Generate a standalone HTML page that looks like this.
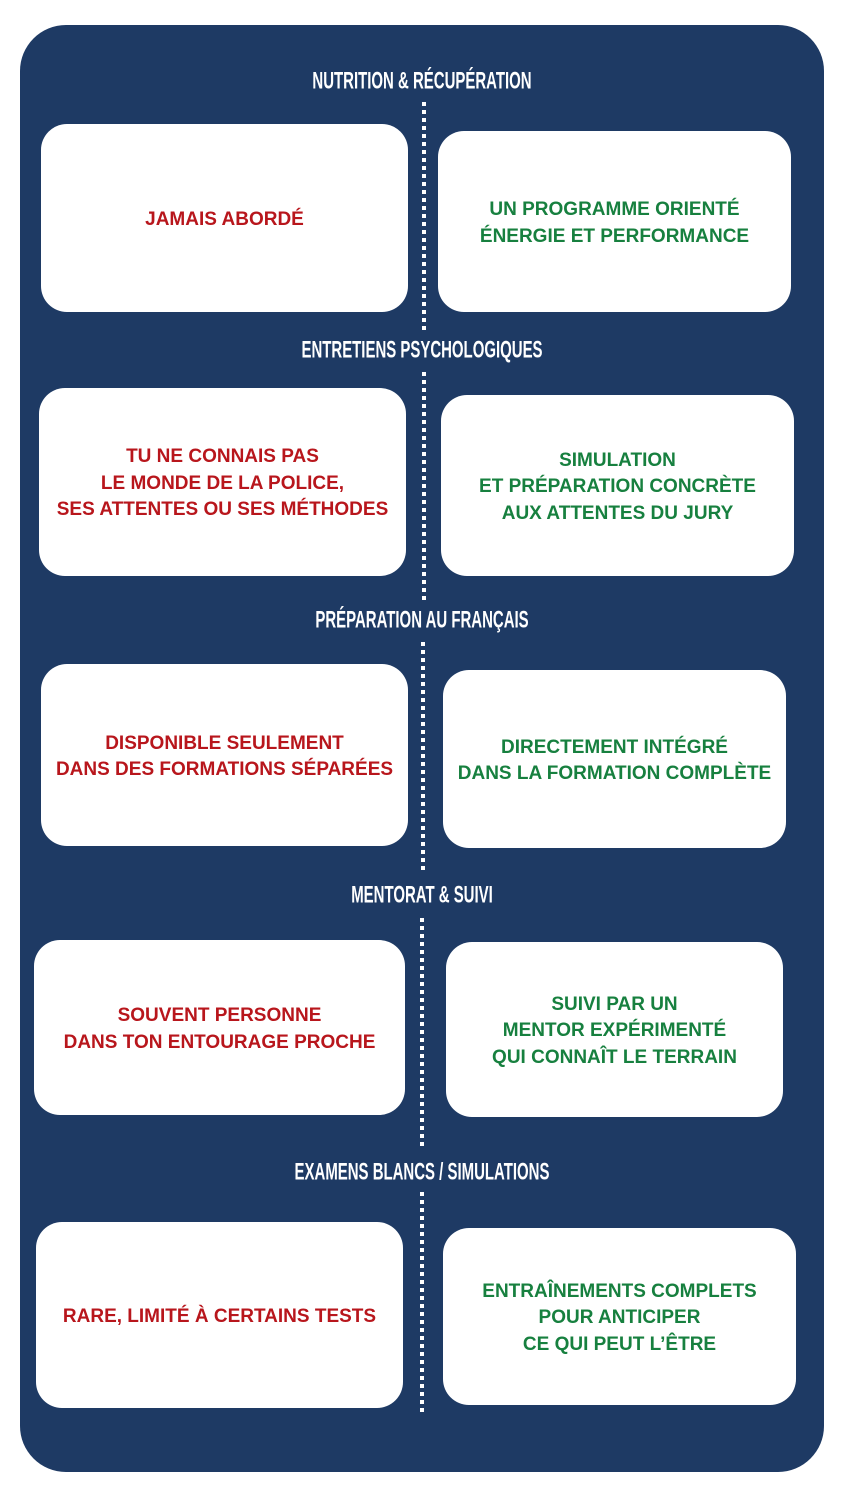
<!DOCTYPE html>
<html><head><meta charset="utf-8"><style>
*{margin:0;padding:0;box-sizing:border-box}
body{width:844px;height:1500px;background:#fff;position:relative;overflow:hidden;font-family:"Liberation Sans",sans-serif}
.bg{position:absolute;left:20px;top:25px;width:804px;height:1447px;background:#1e3a64;border-radius:46px}
.h{position:absolute;left:0;width:844px;text-align:center;color:#fff;font-family:"Liberation Sans Narrow","Liberation Sans",sans-serif;font-weight:bold;font-size:22px;transform:scale(0.68,1.08);line-height:24px}
.d{position:absolute;width:4px;background:repeating-linear-gradient(to bottom,#fff 0 4px,transparent 4px 8px)}
.b{position:absolute;background:#fff;border-radius:26px;display:flex;align-items:center;justify-content:center;text-align:center;font-weight:bold;font-size:19px;line-height:26.5px;padding-top:4px}
.r{color:#b8161c}.g{color:#17803f}
</style></head><body>
<div class="bg"></div>
<div class="h" style="top:69px">NUTRITION &amp; RÉCUPÉRATION</div>
<div class="h" style="top:338px">ENTRETIENS PSYCHOLOGIQUES</div>
<div class="h" style="top:608px">PRÉPARATION AU FRANÇAIS</div>
<div class="h" style="top:883px">MENTORAT &amp; SUIVI</div>
<div class="h" style="top:1160px">EXAMENS BLANCS / SIMULATIONS</div>
<div class="d" style="left:422px;top:102px;height:228px"></div>
<div class="d" style="left:422px;top:372px;height:228px"></div>
<div class="d" style="left:421px;top:642px;height:232px"></div>
<div class="d" style="left:420px;top:918px;height:232px"></div>
<div class="d" style="left:420px;top:1192px;height:224px"></div>
<div class="b r" style="left:41px;top:124px;width:367px;height:188px">JAMAIS ABORDÉ</div>
<div class="b g" style="left:438px;top:131px;width:353px;height:181px">UN PROGRAMME ORIENTÉ<br>ÉNERGIE ET PERFORMANCE</div>
<div class="b r" style="left:39px;top:388px;width:367px;height:188px">TU NE CONNAIS PAS<br>LE MONDE DE LA POLICE,<br>SES ATTENTES OU SES MÉTHODES</div>
<div class="b g" style="left:441px;top:395px;width:353px;height:181px">SIMULATION<br>ET PRÉPARATION CONCRÈTE<br>AUX ATTENTES DU JURY</div>
<div class="b r" style="left:41px;top:664px;width:367px;height:182px">DISPONIBLE SEULEMENT<br>DANS DES FORMATIONS SÉPARÉES</div>
<div class="b g" style="left:443px;top:670px;width:343px;height:178px">DIRECTEMENT INTÉGRÉ<br>DANS LA FORMATION COMPLÈTE</div>
<div class="b r" style="left:34px;top:940px;width:371px;height:175px">SOUVENT PERSONNE<br>DANS TON ENTOURAGE PROCHE</div>
<div class="b g" style="left:446px;top:942px;width:337px;height:175px">SUIVI PAR UN<br>MENTOR EXPÉRIMENTÉ<br>QUI CONNAÎT LE TERRAIN</div>
<div class="b r" style="left:36px;top:1222px;width:367px;height:186px">RARE, LIMITÉ À CERTAINS TESTS</div>
<div class="b g" style="left:443px;top:1228px;width:353px;height:177px">ENTRAÎNEMENTS COMPLETS<br>POUR ANTICIPER<br>CE QUI PEUT L’ÊTRE</div>
</body></html>
